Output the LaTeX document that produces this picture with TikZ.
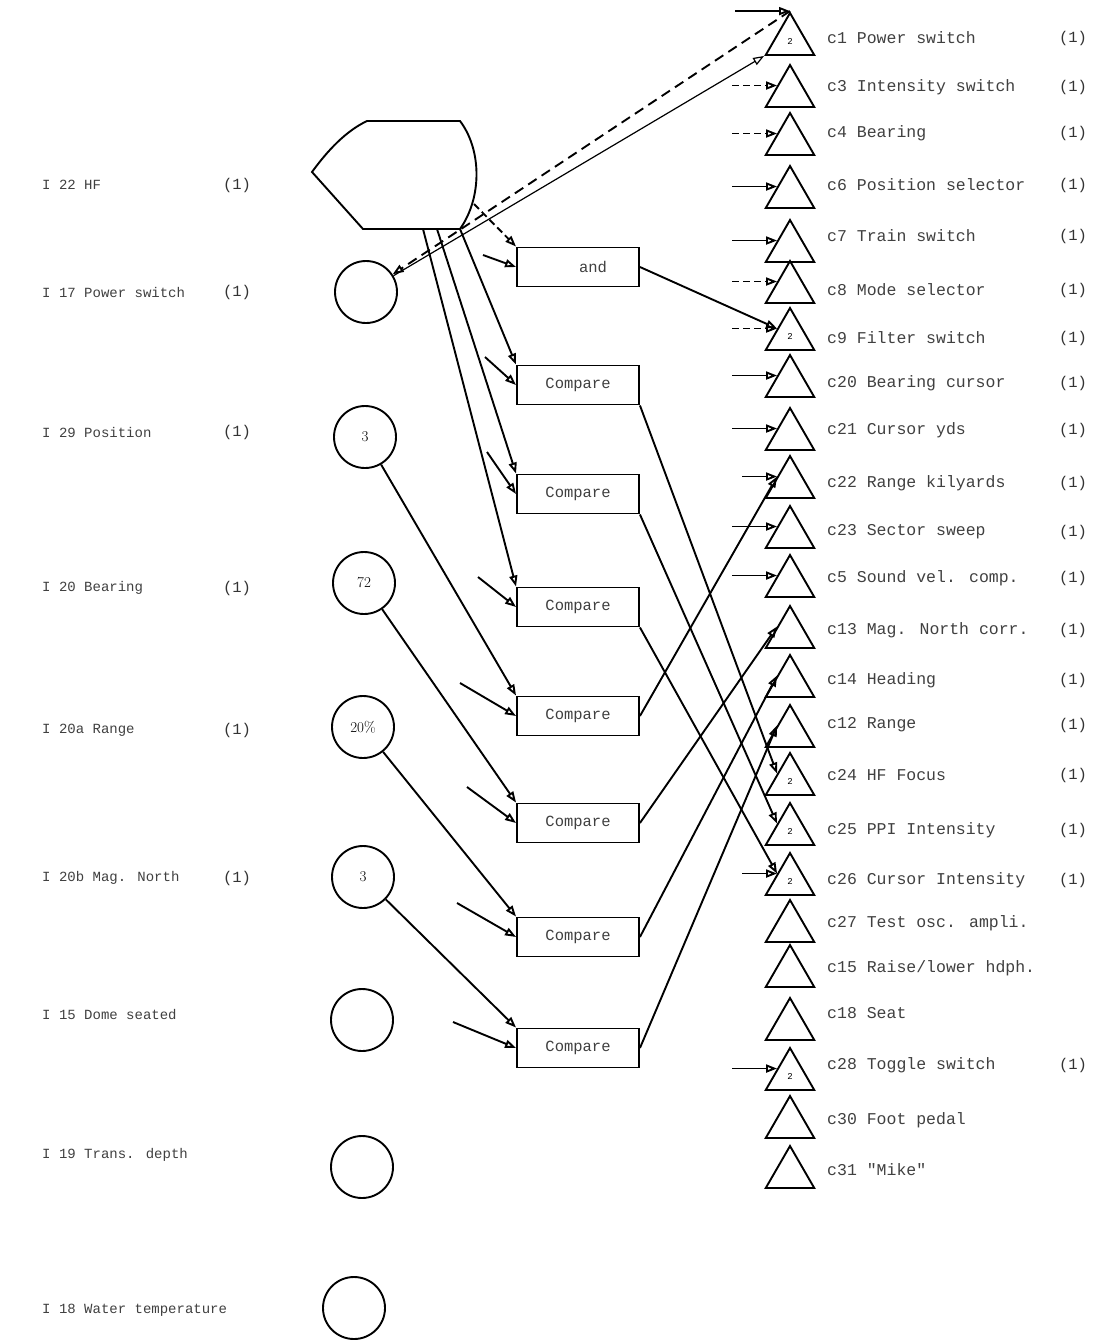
\documentclass[tikz,border=0pt]{standalone}
\usepackage{fontspec}
\newfontfamily\tw{Liberation Mono}
\usetikzlibrary{arrows.meta,shapes.geometric}
\tikzset{
  ln/.style={line width=1.9pt, black},
  arr/.style={ln, -{Triangle[open,length=11pt,width=8pt]}},
  dsh/.style={dash pattern=on 7pt off 4pt},
  tri/.style={draw, ln, regular polygon, regular polygon sides=3, minimum size=56pt, inner sep=0pt, font=\tw\fontsize{9}{10}\selectfont},
  circ/.style={draw, ln, circle, minimum size=62pt, inner sep=0pt, font=\fontsize{15}{17}\selectfont},
  cbox/.style={draw, ln, rectangle, minimum width=122pt, minimum height=39pt, inner sep=0pt, font=\tw\fontsize{15.5}{17}\selectfont, text=black!75},
  rlab/.style={anchor=west, inner sep=0pt, font=\tw\fontsize{16.5}{18}\selectfont, text=black!75},
  llab/.style={anchor=west, inner sep=0pt, font=\tw\fontsize{14}{16}\selectfont, text=black!75},
  one/.style={inner sep=0pt, font=\tw\fontsize{15.5}{17}\selectfont, text=black!80}
}
\begin{document}
\begin{tikzpicture}[x=1pt,y=-1pt]
\useasboundingbox (0,0) rectangle (1093,1341);
\fill[white] (0,0) rectangle (1093,1341);

% ---------- shield shape ----------
\draw[ln] (312,172) .. controls (328,150) and (346,131) .. (367,121) -- (460,121)
  .. controls (482,150) and (482,198) .. (460,229) -- (363,229) -- cycle;
\coordinate (sh1) at (474,204);
\coordinate (sh2) at (460,229);
\coordinate (sh3) at (437,229);
\coordinate (sh4) at (423,229);

% ---------- circles ----------
\node[circ] (C1) at (366,292) {};
\node[circ] (C2) at (365,437) {3};
\node[circ] (C3) at (364,583) {72};
\node[circ] (C4) at (363,727) {20\%};
\node[circ] (C5) at (363,877) {3};
\node[circ] (C6) at (362,1020) {};
\node[circ] (C7) at (362,1167) {};
\node[circ] (C8) at (354,1308) {};

% ---------- left labels ----------
\node[llab] (I1) at (42,185) {I 22 HF};
\node[llab] (I2) at (42,292) {I 17 Power switch};
\node[llab] (I3) at (42,432) {I 29 Position};
\node[llab] (I4) at (42,588) {I 20 Bearing};
\node[llab] (I5) at (42,730) {I 20a Range};
\node[llab] (I6) at (42,878) {I 20b Mag. North};
\node[llab] (I7) at (42,1015) {I 15 Dome seated};
\node[llab] (I8) at (42,1155) {I 19 Trans. depth};
\node[llab] (I9) at (42,1310) {I 18 Water temperature};
\node[one] (J1) at (237,185) {(1)};
\node[one] (J2) at (237,292) {(1)};
\node[one] (J3) at (237,432) {(1)};
\node[one] (J4) at (237,588) {(1)};
\node[one] (J5) at (237,730) {(1)};
\node[one] (J6) at (237,878) {(1)};

% ---------- boxes ----------
\node[cbox] (B1) at (578,267) {\hspace*{30pt}and};
\node[cbox] (B2) at (578,385) {Compare};
\node[cbox] (B3) at (578,494) {Compare};
\node[cbox] (B4) at (578,607) {Compare};
\node[cbox] (B5) at (578,716) {Compare};
\node[cbox] (B6) at (578,823) {Compare};
\node[cbox] (B7) at (578,937) {Compare};
\node[cbox] (B8) at (578,1048) {Compare};

% ---------- triangles ----------
\node[tri] (T1) at (790,41) {2};
\node[tri] (T2) at (790,93) {};
\node[tri] (T3) at (790,141) {};
\node[tri] (T4) at (790,194) {};
\node[tri] (T5) at (790,248) {};
\node[tri] (T6) at (790,289) {};
\node[tri] (T7) at (790,336) {2};
\node[tri] (T8) at (790,383) {};
\node[tri] (T9) at (790,436) {};
\node[tri] (T10) at (790,484) {};
\node[tri] (T11) at (790,534) {};
\node[tri] (T12) at (790,583) {};
\node[tri] (T13) at (790,634) {};
\node[tri] (T14) at (790,683) {};
\node[tri] (T15) at (790,733) {};
\node[tri] (T16) at (790,781) {2};
\node[tri] (T17) at (790,831) {2};
\node[tri] (T18) at (790,881) {2};
\node[tri] (T19) at (790,928) {};
\node[tri] (T20) at (790,973) {};
\node[tri] (T21) at (790,1026) {};
\node[tri] (T22) at (790,1076) {2};
\node[tri] (T23) at (790,1124) {};
\node[tri] (T24) at (790,1174) {};

% ---------- triangle labels ----------
\node[rlab] (L1) at (827,38) {c1 Power switch};
\node[rlab] (L2) at (827,87) {c3 Intensity switch};
\node[rlab] (L3) at (827,133) {c4 Bearing};
\node[rlab] (L4) at (827,185) {c6 Position selector};
\node[rlab] (L5) at (827,236) {c7 Train switch};
\node[rlab] (L6) at (827,290) {c8 Mode selector};
\node[rlab] (L7) at (827,338) {c9 Filter switch};
\node[rlab] (L8) at (827,383) {c20 Bearing cursor};
\node[rlab] (L9) at (827,430) {c21 Cursor yds};
\node[rlab] (L10) at (827,483) {c22 Range kilyards};
\node[rlab] (L11) at (827,532) {c23 Sector sweep};
\node[rlab] (L12) at (827,578) {c5 Sound vel. comp.};
\node[rlab] (L13) at (827,630) {c13 Mag. North corr.};
\node[rlab] (L14) at (827,680) {c14 Heading};
\node[rlab] (L15) at (827,725) {c12 Range};
\node[rlab] (L16) at (827,775) {c24 HF Focus};
\node[rlab] (L17) at (827,830) {c25 PPI Intensity};
\node[rlab] (L18) at (827,880) {c26 Cursor Intensity};
\node[rlab] (L19) at (827,923) {c27 Test osc. ampli.};
\node[rlab] (L20) at (827,968) {c15 Raise/lower hdph.};
\node[rlab] (L21) at (827,1013) {c18 Seat};
\node[rlab] (L22) at (827,1065) {c28 Toggle switch};
\node[rlab] (L23) at (827,1120) {c30 Foot pedal};
\node[rlab] (L24) at (827,1170) {c31 "Mike"};

\foreach \i/\y in {1/38,2/87,3/133,4/185,5/236,6/290,7/338,8/383,9/430,10/483,11/532,12/578,13/630,14/680,15/725,16/775,17/830,18/880,22/1065}
  \node[one] (O\i) at (1073,\y) {(1)};

% ---------- short inputs to triangles ----------
\draw[arr] ([xshift=-55pt]T1.corner 1) -- (T1.corner 1);
\draw[arr,dsh] ([xshift=-45pt]T2.side 1) -- (T2.side 1);
\draw[arr,dsh] ([xshift=-45pt]T3.side 1) -- (T3.side 1);
\draw[arr] ([xshift=-45pt]T4.side 1) -- (T4.side 1);
\draw[arr] ([xshift=-45pt]T5.side 1) -- (T5.side 1);
\draw[arr,dsh] ([xshift=-45pt]T6.side 1) -- (T6.side 1);
\draw[arr,dsh] ([xshift=-45pt]T7.side 1) -- (T7.side 1);
\draw[arr] ([xshift=-45pt]T8.side 1) -- (T8.side 1);
\draw[arr] ([xshift=-45pt]T9.side 1) -- (T9.side 1);
\draw[arr] ([xshift=-35pt]T10.side 1) -- (T10.side 1);
\draw[arr] ([xshift=-45pt]T11.side 1) -- (T11.side 1);
\draw[arr] ([xshift=-45pt]T12.side 1) -- (T12.side 1);
\draw[arr] ([xshift=-35pt]T18.side 1) -- (T18.side 1);
\draw[arr] ([xshift=-45pt]T22.side 1) -- (T22.side 1);

% ---------- long links at top ----------
\draw[arr,dash pattern=on 10pt off 6pt] (T1.corner 1) -- (C1);
\draw[arr,line width=1.2pt] (C1) -- (T1.corner 2);

% ---------- shield to boxes ----------
\draw[arr,dsh] (sh1) -- (B1.north west);
\draw[arr] (sh2) -- (B2.north west);
\draw[arr] (sh3) -- (B3.north west);
\draw[arr] (sh4) -- (B4.north west);

% ---------- side inputs to boxes ----------
\coordinate (s1) at (483,255);
\coordinate (s2) at (485,357);
\coordinate (s3) at (487,452);
\coordinate (s4) at (478,577);
\coordinate (s5) at (460,683);
\coordinate (s6) at (467,787);
\coordinate (s7) at (457,903);
\coordinate (s8) at (453,1022);
\draw[arr] (s1) -- (B1.west);
\draw[arr] (s2) -- (B2.west);
\draw[arr] (s3) -- (B3.west);
\draw[arr] (s4) -- (B4.west);
\draw[arr] (s5) -- (B5.west);
\draw[arr] (s6) -- (B6.west);
\draw[arr] (s7) -- (B7.west);
\draw[arr] (s8) -- (B8.west);

% ---------- circles to boxes ----------
\draw[arr] (C2) -- (B5.north west);
\draw[arr] (C3) -- (B6.north west);
\draw[arr] (C4) -- (B7.north west);
\draw[arr] (C5) -- (B8.north west);

% ---------- boxes to triangles ----------
\draw[arr] (B1.east) -- (T7.side 1);
\draw[arr] (B2.south east) -- (T16.side 1);
\draw[arr] (B3.south east) -- (T17.side 1);
\draw[arr] (B4.south east) -- (T18.side 1);
\draw[arr] (B5.east) -- (T10.side 1);
\draw[arr] (B6.east) -- (T13.side 1);
\draw[arr] (B7.east) -- (T14.side 1);
\draw[arr] (B8.east) -- (T15.side 1);
\end{tikzpicture}
\end{document}
